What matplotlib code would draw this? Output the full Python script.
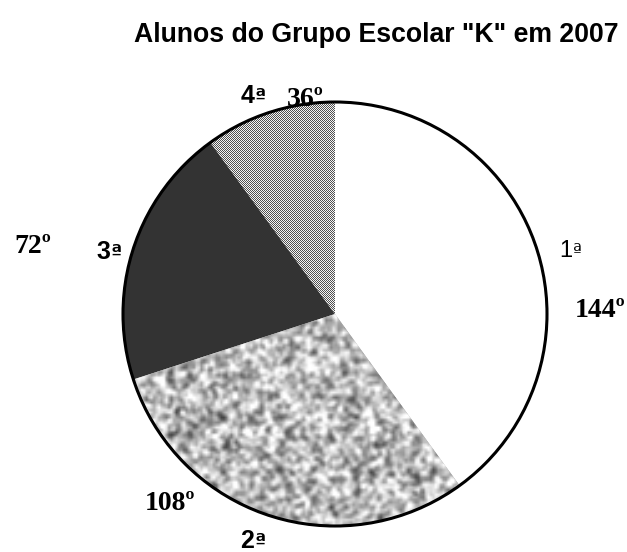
import numpy as np
import matplotlib
matplotlib.use("Agg")
import matplotlib.pyplot as plt
from matplotlib.patches import Circle

# Data
series = ["1ª", "2ª", "3ª", "4ª"]
degrees = [144, 108, 72, 36]
degree_labels = ["144º", "108º", "72º", "36º"]
title = 'Alunos do Grupo Escolar "K" em 2007'

W, H = 627, 552
fig = plt.figure(figsize=(W / 100, H / 100), dpi=100)
ax = fig.add_axes([0, 0, 1, 1])

cx, cy, R = 335, H - 314, 212
wedges, _ = ax.pie(degrees, startangle=90, counterclock=False,
                   center=(cx, cy), radius=R, frame=True,
                   colors=["white", "#b0b0b0", "#333333", "#9a9a9a"],
                   wedgeprops=dict(linewidth=0))

# texture for 2ª : blotchy gray noise
rng = np.random.default_rng(3)
n = 170
noise = rng.random((n, n))
k = np.array([[1, 2, 1], [2, 4, 2], [1, 2, 1]]) / 16.0
pad = np.pad(noise, 1, mode="wrap")
sm = sum(pad[i:i + n, j:j + n] * k[i, j] for i in range(3) for j in range(3))
sm = (sm - sm.mean()) / sm.std()
tex = np.clip(0.72 + 0.15 * sm, 0, 1)
im = ax.imshow(tex, cmap="gray", vmin=0, vmax=1, interpolation="bilinear",
               extent=(cx - R, cx + R, cy - R, cy + R), zorder=2)
im.set_clip_path(wedges[1])

ax.set_xlim(0, W)
ax.set_ylim(0, H)
ax.set_aspect("equal")
ax.axis("off")

# texture for 4ª : fine checker dots, placed pixel-exact
m = 2 * R + 4
ii, jj = np.indices((m, m))
chk = np.where((ii + jj) % 2 == 0, 0.32, 0.96)
fim = fig.figimage(chk, xo=cx - R - 2, yo=cy - R - 2, origin="lower",
                   cmap="gray", vmin=0, vmax=1, zorder=1)
fim.set_clip_path(wedges[3])

# overlay axes for outline and texts
ov = fig.add_axes([0, 0, 1, 1], zorder=2)
ov.set_xlim(0, W)
ov.set_ylim(0, H)
ov.set_aspect("equal")
ov.axis("off")
ov.patch.set_alpha(0)
ov.add_patch(Circle((cx, cy), R, fill=False, edgecolor="black", lw=2.2))

serif = dict(family="Liberation Serif", fontweight="bold", fontsize=20, ha="center", va="baseline")

ov.text(376, H - 42, title, family="Liberation Sans", fontweight="bold",
        fontsize=19.2, ha="center", va="baseline")


def ord_label(x, y, s, size, weight):
    # digit in Arial-like face, ordinal indicator with underline (DejaVu)
    px = size * 100 / 72
    dw = 0.556 * px
    ow = 0.45 * px * 0.8
    x0 = x - (dw + ow) / 2 + dw
    ov.text(x0, y, s[0], family="Liberation Sans", fontweight=weight,
            fontsize=size, ha="right", va="baseline")
    ov.text(x0 + 0.5, y, s[1], family="DejaVu Sans", fontweight=weight,
            fontsize=size * 0.8, ha="left", va="baseline")


# series labels
ord_label(570, H - 257, series[0], 17, "normal")
ord_label(252, H - 548, series[1], 18, "bold")
ord_label(108, H - 259, series[2], 18, "bold")
ord_label(252, H - 103, series[3], 18, "bold")
# degree labels
ov.text(600, H - 317, degree_labels[0], **serif)
ov.text(170, H - 510, degree_labels[1], **serif)
ov.text(33, H - 253, degree_labels[2], **serif)
ov.text(305, H - 106, degree_labels[3], **serif)

fig.savefig("out.png", dpi=100)
